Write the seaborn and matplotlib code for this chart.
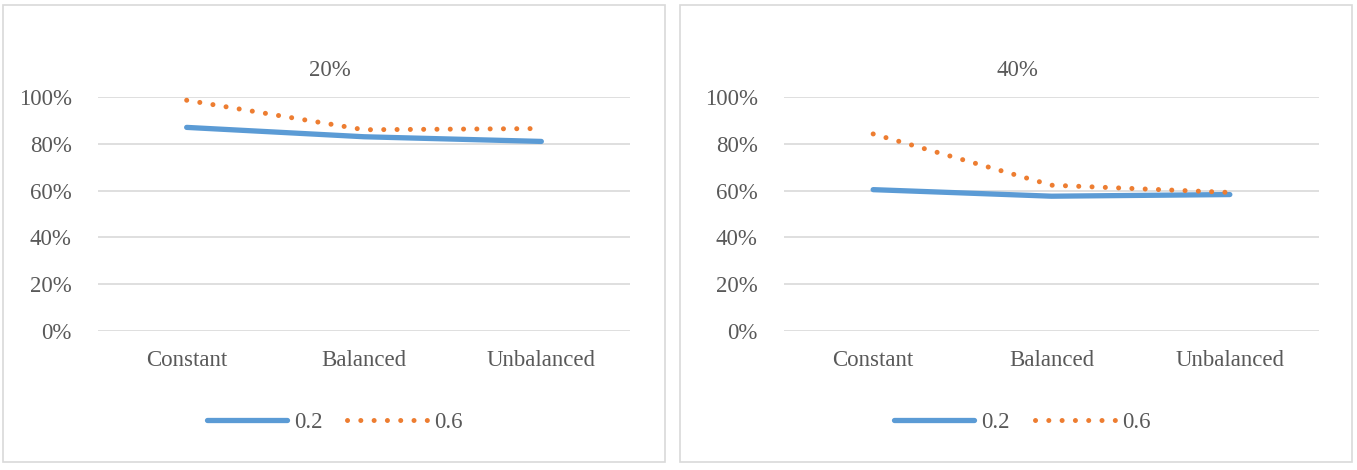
import matplotlib
matplotlib.use("Agg")
import matplotlib.pyplot as plt
from matplotlib.patches import Rectangle
from matplotlib.ticker import PercentFormatter
import pandas as pd
import seaborn as sns

# data
schemes = ["Constant", "Balanced", "Unbalanced"]
rates = ["0.2", "0.6"]
panel_titles = ["20%", "40%"]
vals_20 = {"0.2": [0.870, 0.830, 0.810], "0.6": [0.986, 0.860, 0.865]}
vals_40 = {"0.2": [0.604, 0.576, 0.583], "0.6": [0.842, 0.623, 0.592]}
yticks = [0, 0.2, 0.4, 0.6, 0.8, 1.0]

colors = {"0.2": "#5B9BD5", "0.6": "#ED7D31"}
dashes = {"0.2": "", "0.6": (0.01, 2.65)}
text_col = "#595959"
grid_col = "#D9D9D9"
fs = 16.5

sns.set_theme(style="white")
plt.rcParams["font.family"] = ["Liberation Serif", "DejaVu Serif"]
plt.rcParams["text.color"] = text_col
plt.rcParams["lines.dash_capstyle"] = "round"
plt.rcParams["lines.solid_capstyle"] = "round"

fig = plt.figure(figsize=(13.57, 4.7), dpi=100)

# panel frames
fig.add_artist(Rectangle((3 / 1357, 8 / 470), 662 / 1357, 457 / 470,
                         transform=fig.transFigure, fill=False,
                         edgecolor=grid_col, lw=1.2))
fig.add_artist(Rectangle((680 / 1357, 8 / 470), 672 / 1357, 457 / 470,
                         transform=fig.transFigure, fill=False,
                         edgecolor=grid_col, lw=1.2))

axes_pos = [[98 / 1357, 0.2957, 532 / 1357, 0.498],
            [784 / 1357, 0.2957, 535 / 1357, 0.498]]

for pos, title, vals in zip(axes_pos, panel_titles, [vals_20, vals_40]):
    ax = fig.add_axes(pos)
    rows = []
    for r in rates:
        for s, v in zip(schemes, vals[r]):
            rows.append({"scheme": s, "rate": r, "value": v})
    df = pd.DataFrame(rows)

    sns.lineplot(data=df, x="scheme", y="value", hue="rate", style="rate",
                 palette=colors, dashes=dashes, linewidth=3.6, legend=False,
                 sort=False, ax=ax)
    ax.lines[0].set_linewidth(3.8)

    ax.set_xlim(-0.5, 2.5)
    ax.set_ylim(0, 1)
    ax.set_yticks(yticks)
    ax.yaxis.set_major_formatter(PercentFormatter(1.0, decimals=0))
    ax.grid(axis="y", color=grid_col, lw=1.2)
    ax.set_axisbelow(True)
    for sp in ax.spines.values():
        sp.set_visible(False)
    ax.tick_params(axis="both", length=0, labelsize=fs, labelcolor=text_col)
    ax.tick_params(axis="x", pad=14)
    ax.tick_params(axis="y", pad=19)
    ax.set_xlabel("")
    ax.set_ylabel("")
    ax.set_title(title, fontsize=fs, color=text_col, pad=15, x=0.436)

    ax.legend(ax.lines[:2], rates, loc="center", bbox_to_anchor=(0.445, -0.39),
              ncol=2, frameon=False, fontsize=fs, handlelength=3.5,
              handletextpad=0.3, columnspacing=1.1)

fig.savefig("out.png", dpi=100)
